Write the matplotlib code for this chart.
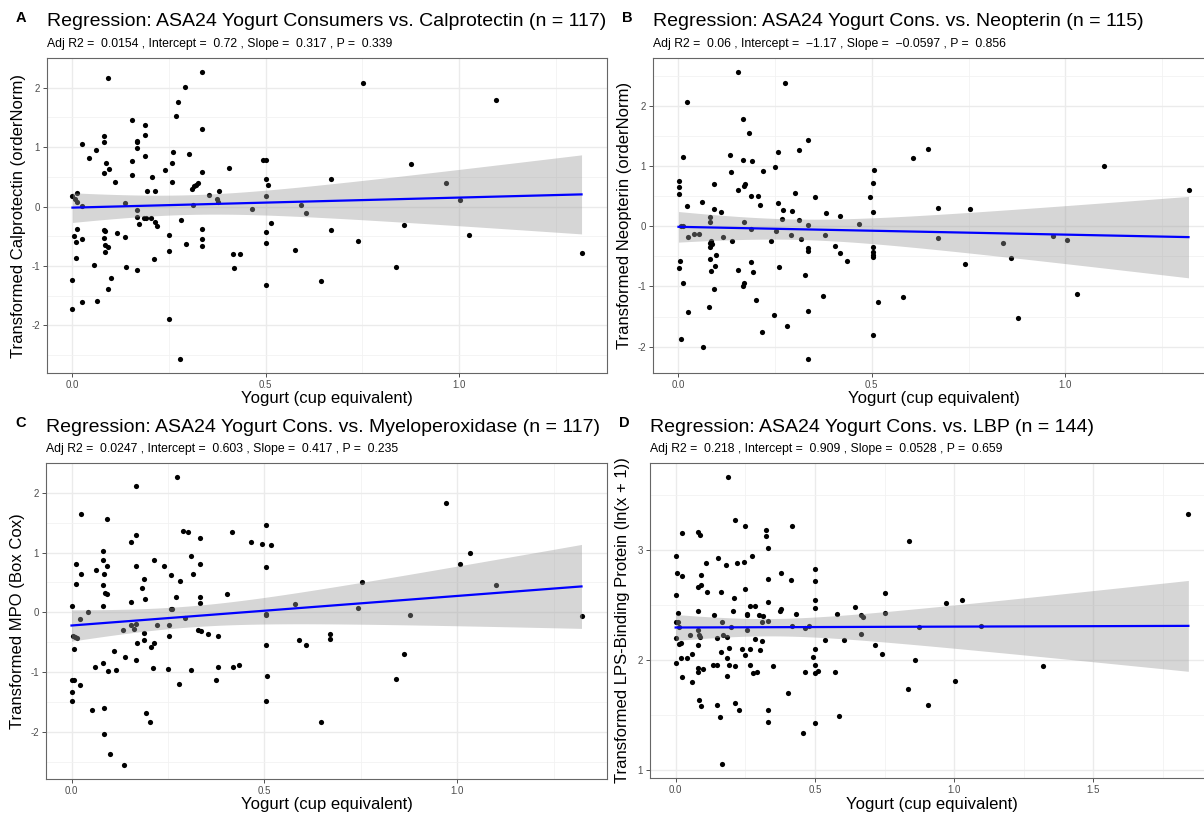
#!/usr/bin/env python3
"""
Four-panel regression scatter: yogurt intake vs. transformed biomarkers.
Writes out.png (1204x814).
"""
import matplotlib
matplotlib.use("Agg")
import matplotlib.pyplot as plt
import numpy as np

W, H = 1204, 814

# --- Panel A: calprotectin ---
a_x = [0.000, 0.000, 0.000, 0.004, 0.006, 0.012, 0.013, 0.008, 0.009, 0.013,
       0.025, 0.025, 0.025, 0.024, 0.043, 0.055, 0.062, 0.063, 0.081, 0.081,
       0.081, 0.081, 0.084, 0.081, 0.084, 0.084, 0.087, 0.092, 0.092, 0.095,
       0.092, 0.099, 0.111, 0.116, 0.136, 0.137, 0.139, 0.154, 0.155, 0.155,
       0.166, 0.167, 0.167, 0.167, 0.167, 0.167, 0.171, 0.184, 0.187, 0.187,
       0.187, 0.193, 0.190, 0.202, 0.206, 0.211, 0.214, 0.214, 0.220, 0.239,
       0.249, 0.251, 0.251, 0.257, 0.257, 0.261, 0.269, 0.273, 0.277, 0.280,
       0.290, 0.293, 0.301, 0.308, 0.312, 0.315, 0.320, 0.326, 0.334, 0.334,
       0.334, 0.334, 0.334, 0.334, 0.352, 0.373, 0.377, 0.380, 0.404, 0.416,
       0.419, 0.434, 0.465, 0.493, 0.501, 0.501, 0.505, 0.501, 0.501, 0.501,
       0.501, 0.513, 0.577, 0.590, 0.605, 0.644, 0.668, 0.668, 0.739, 0.751,
       0.837, 0.858, 0.875, 0.966, 1.002, 1.027, 1.096, 1.317]
a_y = [-1.72, -1.24, 0.17, -0.50, 0.13, 0.23, 0.08, -0.59, -0.87, -0.38,
       0.01, 1.06, -0.54, -1.61, 0.81, -0.98, 0.96, -1.59, 1.18, 1.09,
       0.56, -0.39, -0.41, -0.53, -0.65, -0.76, 0.74, -0.68, 2.16, 0.63,
       -1.38, -1.21, 0.41, -0.45, -0.51, 0.06, -1.01, 1.45, 0.77, 0.53,
       -0.05, 1.11, 1.08, 0.98, -0.17, -1.07, -0.29, -0.20, 1.38, 1.21,
       0.85, 0.26, -0.19, -0.20, 0.49, -0.89, 0.27, -0.26, -0.32, 0.61,
       -0.48, -1.89, -0.74, 0.73, 0.42, 0.92, 1.53, 1.76, -2.56, -0.22,
       2.01, -0.63, 0.88, 0.29, 0.03, 0.34, 0.36, 0.39, 2.26, 1.30,
       0.58, -0.38, -0.54, -0.67, 0.19, 0.12, 0.08, 0.26, 0.65, -0.80,
       -1.04, -0.79, -0.04, 0.78, 0.79, 0.46, 0.37, 0.18, -0.43, -0.61,
       -1.32, -0.27, -0.73, 0.02, -0.11, -1.26, 0.47, -0.40, -0.58, 2.08,
       -1.01, -0.31, 0.72, 0.39, 0.11, -0.47, 1.80, -0.78]

# --- Panel B: neopterin ---
b_x = [0.002, 0.003, 0.001, 0.001, 0.004, 0.007, 0.012, 0.008, 0.012, 0.012,
       0.024, 0.024, 0.025, 0.025, 0.042, 0.054, 0.062, 0.063, 0.082, 0.082,
       0.082, 0.082, 0.083, 0.084, 0.086, 0.088, 0.081, 0.092, 0.092, 0.092,
       0.096, 0.099, 0.111, 0.115, 0.135, 0.137, 0.139, 0.154, 0.155, 0.154,
       0.168, 0.168, 0.170, 0.172, 0.167, 0.169, 0.169, 0.183, 0.188, 0.188,
       0.188, 0.191, 0.194, 0.201, 0.207, 0.212, 0.216, 0.220, 0.239, 0.248,
       0.250, 0.252, 0.257, 0.257, 0.261, 0.269, 0.272, 0.277, 0.281, 0.291,
       0.294, 0.302, 0.311, 0.312, 0.318, 0.327, 0.335, 0.336, 0.336, 0.336,
       0.336, 0.336, 0.354, 0.373, 0.380, 0.381, 0.404, 0.417, 0.419, 0.435,
       0.466, 0.495, 0.503, 0.503, 0.503, 0.503, 0.503, 0.503, 0.503, 0.507,
       0.515, 0.580, 0.607, 0.645, 0.670, 0.670, 0.741, 0.754, 0.838, 0.860,
       0.877, 0.969, 1.005, 1.029, 1.099, 1.318]
b_y = [0.75, 0.66, 0.54, -0.70, -0.57, 0.00, 0.01, -1.87, 1.16, -0.94,
       2.07, 0.34, -0.17, -1.43, -0.12, -0.13, 0.41, -2.01, 0.16, 0.08,
       -0.27, -0.35, -0.55, -0.74, -0.24, -0.29, -1.34, 0.70, 0.28, -1.04,
       -0.66, -0.48, 0.23, -0.17, 1.19, 0.91, -0.25, 2.56, 0.60, -0.73,
       1.79, 1.11, 0.67, 0.71, -0.99, -0.94, 0.08, 1.55, 0.51, -0.04,
       -0.59, 1.08, -0.76, -1.22, 0.51, 0.35, -1.76, 0.92, -0.25, -1.48,
       0.99, -0.08, 1.23, 0.38, -0.67, 0.12, 0.27, 2.38, -1.65, -0.14,
       0.25, 0.55, 1.27, 0.10, -0.21, -0.81, 1.44, 0.02, -0.36, -0.41,
       -1.40, -2.20, 0.49, -1.16, -0.15, 0.22, -0.32, 0.18, -0.45, -0.57,
       0.04, 0.48, 0.72, 0.24, -0.34, -0.43, -0.47, -0.51, -1.80, 0.94,
       -1.25, -1.18, 1.14, 1.29, 0.30, -0.20, -0.62, 0.29, -0.27, -0.52,
       -1.52, -0.16, -0.22, -1.13, 1.01, 0.60]

# --- Panel C: myeloperoxidase ---
c_x = [0.001, 0.000, 0.000, 0.002, 0.007, 0.003, 0.009, 0.013, 0.007, 0.011,
       0.011, 0.023, 0.023, 0.024, 0.024, 0.042, 0.053, 0.061, 0.063, 0.081,
       0.081, 0.081, 0.081, 0.081, 0.084, 0.084, 0.084, 0.087, 0.091, 0.091,
       0.091, 0.095, 0.099, 0.110, 0.115, 0.134, 0.136, 0.139, 0.153, 0.155,
       0.155, 0.162, 0.166, 0.166, 0.167, 0.167, 0.167, 0.171, 0.183, 0.187,
       0.187, 0.187, 0.190, 0.192, 0.203, 0.207, 0.211, 0.214, 0.214, 0.221,
       0.239, 0.249, 0.252, 0.252, 0.258, 0.258, 0.261, 0.270, 0.273, 0.278,
       0.280, 0.290, 0.295, 0.303, 0.310, 0.310, 0.316, 0.327, 0.334, 0.334,
       0.334, 0.334, 0.335, 0.353, 0.374, 0.380, 0.381, 0.404, 0.416, 0.419,
       0.434, 0.466, 0.495, 0.503, 0.503, 0.503, 0.503, 0.503, 0.503, 0.507,
       0.516, 0.579, 0.591, 0.607, 0.647, 0.671, 0.671, 0.742, 0.754, 0.841,
       0.861, 0.878, 0.971, 1.007, 1.032, 1.101, 1.322]
c_y = [0.11, -1.33, -1.48, -1.13, -1.14, -0.40, -0.42, -0.43, -0.62, 0.81,
       0.47, -0.11, -1.21, 1.64, 0.65, 0.00, -1.63, -0.92, 0.71, 1.03,
       0.88, 0.46, 0.11, -0.84, 0.64, -1.60, -2.04, 0.32, 0.31, 1.56,
       0.78, -0.99, -2.38, -0.65, -0.97, -0.29, -2.55, -0.74, 0.17, 1.18,
       -0.22, -0.28, -0.19, 2.12, 1.30, 0.78, -0.79, -0.52, 0.40, 0.55,
       -0.35, -0.47, 0.23, -1.68, -1.84, -0.58, -0.94, 0.87, -0.51, -0.22,
       0.77, -0.95, -0.22, -0.40, 0.62, 0.06, 0.05, 0.26, 2.26, -1.20,
       0.53, 1.36, -0.09, 1.34, 0.94, -0.97, 0.64, -0.30, 1.24, 0.81,
       0.25, 0.16, -0.32, -0.37, -1.14, -0.39, -0.91, 0.30, 1.34, -0.92,
       -0.89, 1.18, 1.14, 1.47, 0.76, -0.02, -0.04, -0.55, -1.49, -1.07,
       1.12, 0.14, -0.47, -0.54, -1.84, -0.37, -0.45, 0.08, 0.50, -1.11,
       -0.69, -0.04, 1.83, 0.81, 1.00, 0.46, -0.06]

# --- Panel D: LPS-binding protein ---
d_x = [0.000, 0.000, 0.000, 0.001, 0.001, 0.004, 0.022, 0.008, 0.007, 0.011,
       0.011, 0.019, 0.024, 0.019, 0.024, 0.041, 0.051, 0.060, 0.060, 0.079,
       0.089, 0.090, 0.079, 0.091, 0.079, 0.080, 0.083, 0.079, 0.089, 0.079,
       0.079, 0.099, 0.109, 0.111, 0.084, 0.090, 0.133, 0.139, 0.148, 0.152,
       0.148, 0.148, 0.159, 0.163, 0.166, 0.166, 0.163, 0.171, 0.181, 0.187,
       0.185, 0.185, 0.183, 0.191, 0.191, 0.200, 0.206, 0.209, 0.213, 0.213,
       0.212, 0.219, 0.226, 0.238, 0.245, 0.248, 0.248, 0.249, 0.255, 0.256,
       0.258, 0.268, 0.267, 0.268, 0.275, 0.279, 0.284, 0.286, 0.292, 0.301,
       0.304, 0.309, 0.309, 0.313, 0.325, 0.325, 0.333, 0.333, 0.333, 0.333,
       0.333, 0.333, 0.350, 0.373, 0.380, 0.378, 0.402, 0.415, 0.417, 0.417,
       0.433, 0.459, 0.463, 0.465, 0.480, 0.492, 0.500, 0.500, 0.500, 0.500,
       0.500, 0.500, 0.500, 0.512, 0.500, 0.537, 0.573, 0.578, 0.587, 0.605,
       0.644, 0.667, 0.667, 0.673, 0.717, 0.740, 0.751, 0.751, 0.837, 0.836,
       0.859, 0.874, 0.906, 0.969, 1.004, 1.029, 1.098, 1.319, 1.841]
d_y = [2.95, 2.59, 2.35, 2.20, 1.97, 2.79, 2.76, 2.43, 2.35, 2.30,
       2.15, 2.16, 3.15, 2.02, 1.85, 2.02, 2.23, 2.06, 1.80, 3.16,
       3.14, 2.77, 2.66, 2.68, 2.45, 2.27, 2.23, 2.14, 2.21, 1.93,
       1.89, 1.92, 2.88, 2.62, 1.64, 1.58, 1.96, 2.41, 1.96, 2.93,
       2.20, 1.59, 1.48, 2.62, 1.06, 2.35, 2.07, 2.23, 2.86, 3.66,
       2.02, 1.86, 2.21, 2.11, 1.96, 2.30, 2.45, 2.56, 3.27, 1.95,
       1.61, 2.88, 1.55, 2.10, 2.89, 3.22, 2.05, 2.65, 2.41, 2.27,
       2.42, 2.49, 2.10, 1.96, 2.95, 1.88, 2.19, 2.49, 1.89, 2.41,
       2.09, 2.35, 2.17, 2.40, 3.18, 3.13, 2.36, 3.02, 2.74, 2.53,
       1.55, 1.44, 1.95, 2.45, 2.46, 2.79, 1.70, 2.73, 3.22, 2.31,
       2.42, 1.34, 2.29, 1.89, 2.31, 2.03, 2.83, 2.72, 2.55, 2.47,
       2.10, 1.96, 1.88, 1.90, 1.43, 2.18, 1.89, 2.42, 1.49, 2.18,
       2.48, 2.41, 2.24, 2.39, 2.14, 2.06, 2.61, 2.43, 3.08, 1.74,
       2.00, 2.30, 1.59, 2.52, 1.81, 2.55, 2.31, 1.95, 3.33]

panels = [
    dict(letter="A", x=a_x, y=a_y,
         title="Regression: ASA24 Yogurt Consumers vs. Calprotectin (n = 117)",
         subtitle="Adj R2 =  0.0154 , Intercept =  0.72 , Slope =  0.317 , P =  0.339",
         ylabel="Transformed Calprotectin (orderNorm)",
         xticks=[0, 0.5, 1.0], yticks=[-2, -1, 0, 1, 2],
         box=(47, 58, 607, 373)),
    # right-hand panels run past the image edge (cropped like the original)
    dict(letter="B", x=b_x, y=b_y,
         title="Regression: ASA24 Yogurt Cons. vs. Neopterin (n = 115)",
         subtitle="Adj R2 =  0.06 , Intercept =  \u22121.17 , Slope =  \u22120.0597 , P =  0.856",
         ylabel="Transformed Neopterin (orderNorm)",
         xticks=[0, 0.5, 1.0], yticks=[-2, -1, 0, 1, 2],
         box=(653, 58, 1214, 373)),
    dict(letter="C", x=c_x, y=c_y,
         title="Regression: ASA24 Yogurt Cons. vs. Myeloperoxidase (n = 117)",
         subtitle="Adj R2 =  0.0247 , Intercept =  0.603 , Slope =  0.417 , P =  0.235",
         ylabel="Transformed MPO (Box Cox)",
         xticks=[0, 0.5, 1.0], yticks=[-2, -1, 0, 1, 2],
         box=(46, 463, 607, 779)),
    dict(letter="D", x=d_x, y=d_y,
         title="Regression: ASA24 Yogurt Cons. vs. LBP (n = 144)",
         subtitle="Adj R2 =  0.218 , Intercept =  0.909 , Slope =  0.0528 , P =  0.659",
         ylabel="Transformed LPS-Binding Protein (ln(x + 1))",
         xticks=[0, 0.5, 1.0, 1.5], yticks=[1, 2, 3],
         box=(650, 463, 1214, 778)),
]

T_CRIT = 1.98  # ~95% two-sided t quantile for df ~ 115-140


def fx(px):
    return px / W


def fy(py):
    return 1 - py / H


def expand(lo, hi, frac=0.05):
    pad = (hi - lo) * frac
    return lo - pad, hi + pad


def draw_panel(fig, p):
    x0, y0, x1, y1 = p["box"]
    ax = fig.add_axes([fx(x0), fy(y1), (x1 - x0) / W, (y1 - y0) / H])
    x = np.asarray(p["x"])
    y = np.asarray(p["y"])

    ax.scatter(x, y, s=14, color="black", linewidths=0, zorder=3)

    # OLS fit + 95% confidence ribbon (like geom_smooth(method="lm"))
    slope, icpt = np.polyfit(x, y, 1)
    resid = y - (icpt + slope * x)
    n = len(x)
    s = np.sqrt(np.sum(resid ** 2) / (n - 2))
    sxx = np.sum((x - x.mean()) ** 2)
    xs = np.linspace(x.min(), x.max(), 80)
    fit = icpt + slope * xs
    se = s * np.sqrt(1 / n + (xs - x.mean()) ** 2 / sxx)
    ax.fill_between(xs, fit - T_CRIT * se, fit + T_CRIT * se,
                    color="#999999", alpha=0.4, linewidth=0, zorder=4)
    ax.plot(xs, fit, color="#0000FF", lw=1.6, zorder=5)

    xt = p["xticks"]
    yt = p["yticks"]
    ax.set_xticks(xt)
    ax.set_xticklabels([f"{v:.1f}" for v in xt])
    ax.set_yticks(yt)
    ax.set_yticklabels([f"{v:d}" for v in yt])
    xm = [v + 0.25 for v in [xt[0] - 0.5] + xt]
    ym = [v + 0.5 for v in [yt[0] - 1] + yt]
    ax.set_xticks(xm, minor=True)
    ax.set_yticks(ym, minor=True)
    # limits last, so the minor ticks don't widen the view
    ax.set_xlim(*expand(x.min(), x.max()))
    ax.set_ylim(*expand(y.min(), y.max()))

    ax.tick_params(which="minor", length=0)
    ax.tick_params(which="major", length=3, width=0.6, color="#333333",
                   labelsize=7, labelcolor="#4D4D4D", pad=2)
    ax.grid(which="major", color="#EBEBEB", lw=1.0, zorder=0)
    ax.grid(which="minor", color="#F2F2F2", lw=0.6, zorder=0)
    ax.set_axisbelow(True)
    for sp in ax.spines.values():
        sp.set_color("#666666")
        sp.set_linewidth(0.8)

    cx = (x0 + x1) / 2
    fig.text(fx(x0 - 31), fy(y0 - 40), p["letter"], fontsize=10.5,
             fontweight="bold", ha="left", va="center")
    fig.text(fx(x0), fy(y0 - 36), p["title"], fontsize=14.0,
             ha="left", va="center")
    fig.text(fx(x0), fy(y0 - 14), p["subtitle"], fontsize=8.8,
             ha="left", va="center")
    fig.text(fx(cx), fy(y1 + 26), "Yogurt (cup equivalent)", fontsize=12,
             ha="center", va="center")
    fig.text(fx(x0 - 28), fy((y0 + y1) / 2), p["ylabel"], fontsize=12,
             rotation=90, ha="center", va="center")
    return ax


def main() -> None:
    plt.rcParams["font.family"] = ["Liberation Sans", "DejaVu Sans"]
    plt.rcParams["axes.unicode_minus"] = False
    fig = plt.figure(figsize=(W / 100, H / 100), dpi=100)
    fig.patch.set_facecolor("white")
    for p in panels:
        draw_panel(fig, p)
    fig.savefig("out.png", dpi=100, facecolor="white")
    plt.close(fig)


if __name__ == "__main__":
    main()
